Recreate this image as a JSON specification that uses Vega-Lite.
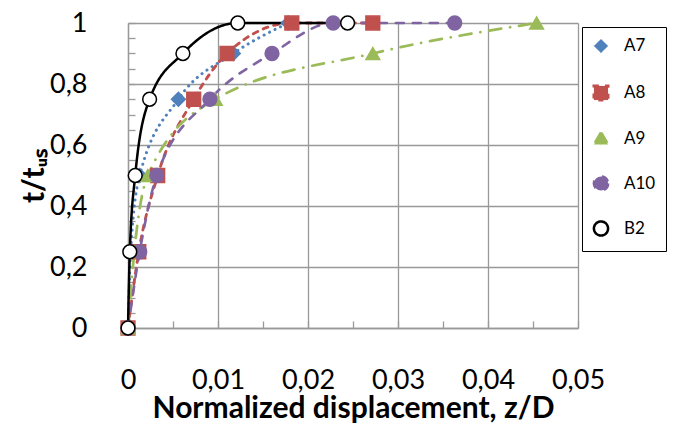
{
  "$schema": "https://vega.github.io/schema/vega-lite/v6.json",
  "width": 450,
  "height": 305,
  "autosize": {"type": "none"},
  "padding": {"left": 128, "top": 23, "right": 106, "bottom": 103},
  "background": "white",
  "config": {
    "font": "Lato",
    "view": {"stroke": null},
    "axis": {
      "labelFont": "Lato", "labelFontSize": 27, "labelColor": "black",
      "titleFont": "Lato", "titleFontSize": 30, "titleFontWeight": "bold", "titleColor": "black",
      "gridColor": "#999999", "gridWidth": 1.3, "domainColor": "#999999", "domainWidth": 1.3,
      "tickColor": "#999999", "tickWidth": 1.3
    }
  },
  "data": {"values": [
    {"series": "A7", "x": 0, "y": 0},
    {"series": "A7", "x": 0.0003, "y": 0.25},
    {"series": "A7", "x": 0.0013, "y": 0.5},
    {"series": "A7", "x": 0.0056, "y": 0.75},
    {"series": "A7", "x": 0.0117, "y": 0.9},
    {"series": "A7", "x": 0.0178, "y": 1},
    {"series": "A8", "x": 0, "y": 0},
    {"series": "A8", "x": 0.0012, "y": 0.25},
    {"series": "A8", "x": 0.0033, "y": 0.5},
    {"series": "A8", "x": 0.0073, "y": 0.75},
    {"series": "A8", "x": 0.011, "y": 0.9},
    {"series": "A8", "x": 0.0182, "y": 1},
    {"series": "A8", "x": 0.0272, "y": 1},
    {"series": "A9", "x": 0, "y": 0},
    {"series": "A9", "x": 0.0007, "y": 0.25},
    {"series": "A9", "x": 0.0022, "y": 0.5},
    {"series": "A9", "x": 0.0097, "y": 0.75},
    {"series": "A9", "x": 0.0272, "y": 0.9},
    {"series": "A9", "x": 0.0454, "y": 1},
    {"series": "A10", "x": 0, "y": 0},
    {"series": "A10", "x": 0.0013, "y": 0.25},
    {"series": "A10", "x": 0.0032, "y": 0.5},
    {"series": "A10", "x": 0.0091, "y": 0.75},
    {"series": "A10", "x": 0.016, "y": 0.9},
    {"series": "A10", "x": 0.0228, "y": 1},
    {"series": "A10", "x": 0.0363, "y": 1},
    {"series": "B2", "x": 0, "y": 0},
    {"series": "B2", "x": 0.0002, "y": 0.25},
    {"series": "B2", "x": 0.0008, "y": 0.5},
    {"series": "B2", "x": 0.0024, "y": 0.75},
    {"series": "B2", "x": 0.0061, "y": 0.9},
    {"series": "B2", "x": 0.0122, "y": 1},
    {"series": "B2", "x": 0.0244, "y": 1}
  ]},
  "encoding": {
    "x": {
      "field": "x", "type": "quantitative",
      "scale": {"domain": [0, 0.05], "nice": false, "zero": false},
      "axis": {
        "title": "Normalized displacement, z/D",
        "values": [0, 0.005, 0.01, 0.015, 0.02, 0.025, 0.03, 0.035, 0.04, 0.045, 0.05],
        "labelExpr": "abs(datum.value*100 - round(datum.value*100)) < 0.001 ? replace(format(datum.value, '.2~f'), '.', ',') : ''",
        "gridOpacity": {"condition": {"test": "abs(datum.value*100 - round(datum.value*100)) < 0.001", "value": 1}, "value": 0},
        "tickSize": -7,
        "labelPadding": 46,
        "titlePadding": 0,
        "labelFlush": false,
        "labelOverlap": false
      }
    },
    "y": {
      "field": "y", "type": "quantitative",
      "scale": {"domain": [0, 1], "nice": false},
      "axis": {
        "title": "t/tᵤₛ",
        "values": [0, 0.05, 0.1, 0.15, 0.2, 0.25, 0.3, 0.35, 0.4, 0.45, 0.5, 0.55, 0.6, 0.65, 0.7, 0.75, 0.8, 0.85, 0.9, 0.95, 1],
        "labelExpr": "abs(datum.value*5 - round(datum.value*5)) < 0.001 ? replace(format(datum.value, '.1~f'), '.', ',') : ''",
        "gridOpacity": {"condition": {"test": "abs(datum.value*5 - round(datum.value*5)) < 0.001", "value": 1}, "value": 0},
        "tickSize": -7,
        "labelPadding": 48,
        "titlePadding": 0,
        "labelFlush": false,
        "labelOverlap": false
      }
    }
  },
  "layer": [
    {
      "mark": {"type": "line", "interpolate": "monotone", "strokeCap": "round"},
      "encoding": {
        "color": {
          "field": "series", "type": "nominal",
          "scale": {"domain": ["A7", "A8", "A9", "A10", "B2"], "range": ["#4F81BD", "#C0504D", "#9BBB59", "#8064A2", "#000000"]},
          "legend": {
            "title": null,
            "orient": "none",
            "legendX": 454,
            "legendY": 4,
            "padding": 10,
            "fillColor": "white",
            "strokeColor": "black",
            "symbolSize": 200,
            "labelFont": "Lato",
            "labelFontSize": 17,
            "labelColor": "black",
            "labelOffset": 14,
            "rowPadding": 20
          }
        },
        "strokeDash": {"field": "series", "type": "nominal", "scale": {"domain": ["A7", "A8", "A9", "A10", "B2"], "range": [[0.1, 6], [5, 6], [12, 9, 0.1, 9], [8, 9], [1, 0]]}, "legend": null},
        "strokeWidth": {"field": "series", "type": "nominal", "scale": {"domain": ["A7", "A8", "A9", "A10", "B2"], "range": [3, 2.5, 3.5, 2.5, 2.5]}, "legend": null}
      }
    },
    {
      "mark": {"type": "point", "filled": false, "opacity": 1, "strokeWidth": 1.5, "size": 190},
      "encoding": {
        "shape": {
          "field": "series", "type": "nominal",
          "scale": {"domain": ["A7", "A8", "A9", "A10", "B2"], "range": ["diamond", "square", "triangle-up", "circle", "circle"]},
          "legend": null
        },
        "fill": {"field": "series", "type": "nominal", "scale": {"domain": ["A7", "A8", "A9", "A10", "B2"], "range": ["#4F81BD", "#C0504D", "#9BBB59", "#8064A2", "#ffffff"]}, "legend": null},
        "stroke": {"field": "series", "type": "nominal", "scale": {"domain": ["A7", "A8", "A9", "A10", "B2"], "range": ["#4F81BD", "#C0504D", "#9BBB59", "#8064A2", "#000000"]}, "legend": null}
      }
    }
  ]
}
